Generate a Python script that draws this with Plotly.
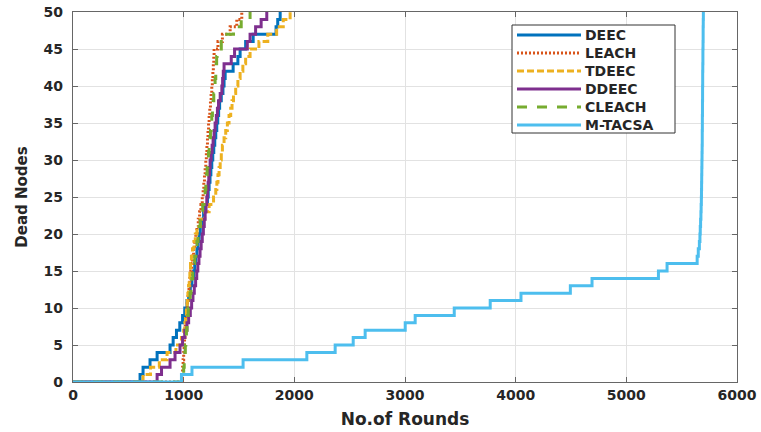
import plotly.graph_objects as go

# Round at which each successive node died (node count 1..50)
deec = [606, 633, 696, 760, 877, 905, 935, 965, 990, 1010,
        1030, 1045, 1060, 1075, 1090, 1100, 1110, 1120, 1130, 1140,
        1150, 1165, 1180, 1195, 1215, 1222, 1230, 1238, 1246, 1254,
        1263, 1272, 1281, 1290, 1299, 1308, 1316, 1325, 1340, 1355,
        1365, 1375, 1447, 1490, 1510, 1560, 1628, 1835, 1850, 1872]
leach = [985, 990, 995, 1000, 1004, 1008, 1012, 1016, 1020, 1025,
         1032, 1040, 1048, 1056, 1064, 1072, 1080, 1090, 1100, 1110,
         1120, 1132, 1144, 1156, 1168, 1176, 1182, 1188, 1194, 1200,
         1205, 1210, 1215, 1220, 1225, 1230, 1236, 1242, 1248, 1254,
         1259, 1264, 1268, 1272, 1275, 1310, 1350, 1420, 1480, 1525]
tdeec = [633, 700, 780, 850, 930, 980, 1000, 1010, 1018, 1025,
         1032, 1038, 1044, 1050, 1056, 1062, 1070, 1080, 1092, 1105,
         1120, 1150, 1190, 1230, 1270, 1290, 1300, 1310, 1320, 1330,
         1340, 1350, 1365, 1380, 1395, 1410, 1425, 1437, 1450, 1470,
         1490, 1510, 1535, 1560, 1600, 1680, 1760, 1840, 1900, 1962]
ddeec = [760, 800, 877, 922, 967, 990, 1010, 1030, 1045, 1060,
         1072, 1084, 1096, 1108, 1118, 1128, 1138, 1148, 1158, 1168,
         1178, 1186, 1194, 1202, 1209, 1215, 1221, 1227, 1233, 1239,
         1248, 1257, 1266, 1275, 1284, 1295, 1305, 1315, 1330, 1345,
         1352, 1358, 1365, 1430, 1460, 1575, 1600, 1650, 1700, 1751]
cleach = [995, 1000, 1005, 1010, 1015, 1020, 1025, 1030, 1036, 1042,
          1050, 1058, 1066, 1074, 1082, 1090, 1100, 1110, 1120, 1130,
          1140, 1150, 1160, 1172, 1184, 1194, 1200, 1206, 1212, 1218,
          1224, 1230, 1236, 1242, 1248, 1254, 1260, 1266, 1272, 1278,
          1284, 1290, 1294, 1298, 1302, 1340, 1390, 1450, 1520, 1600]
mtacsa = [980, 1075, 1537, 2113, 2369, 2532, 2640, 3002, 3092, 3445,
          3770, 4048, 4494, 4690, 5290, 5368, 5640, 5650, 5660, 5665,
          5668, 5671, 5674, 5676, 5678, 5679, 5680, 5681, 5682, 5683,
          5684, 5685, 5686, 5686, 5687, 5687, 5688, 5688, 5689, 5689,
          5690, 5690, 5691, 5692, 5692, 5693, 5694, 5694, 5695, 5696]

series_names = ["DEEC", "LEACH", "TDEEC", "DDEEC", "CLEACH", "M-TACSA"]
series_data = [deec, leach, tdeec, ddeec, cleach, mtacsa]
colors = ["#0072BD", "#D95319", "#EDB120", "#7E2F8E", "#77AC30", "#4DBEEE"]
dashes = ["solid", "2px,2px", "7px,3px", "solid", "10px,10px", "solid"]

x_ticks = [0, 1000, 2000, 3000, 4000, 5000, 6000]
y_ticks = [0, 5, 10, 15, 20, 25, 30, 35, 40, 45, 50]

FONT = "DejaVu Sans"
fig = go.Figure()
for name, d, c, ds in zip(series_names, series_data, colors, dashes):
    fig.add_trace(go.Scatter(
        x=[0] + d, y=list(range(len(d) + 1)), mode="lines", name=name,
        line=dict(color=c, width=3, dash=ds, shape="hv"), showlegend=False))

# manual legend box (paper coordinates)
L = 73; R = 737; T = 12; B = 382
def px(v): return (v - L) / (R - L)
def py(v): return (B - v) / (B - T)

shapes = [dict(type="rect", xref="paper", yref="paper",
               x0=px(512), x1=px(675), y0=py(133), y1=py(25),
               line=dict(color="#333333", width=1), fillcolor="white", layer="above")]
annotations = []
rows = [35, 53, 71, 89, 107, 125]
for name, c, ds, r in zip(series_names, colors, dashes, rows):
    shapes.append(dict(type="line", xref="paper", yref="paper",
                       x0=px(517), x1=px(581), y0=py(r), y1=py(r),
                       line=dict(color=c, width=3, dash=ds), layer="above"))
    annotations.append(dict(xref="paper", yref="paper", x=px(583), y=py(r),
                            text=name, showarrow=False, xanchor="left", yanchor="middle",
                            font=dict(family=FONT, size=14, color="#262626", weight="bold")))

axis_common = dict(showline=True, linecolor="#666666", linewidth=1.2, mirror="ticks",
                   ticks="inside", ticklen=5, tickcolor="#666666",
                   showgrid=True, gridcolor="#e2e2e2", gridwidth=1, zeroline=False,
                   layer="below traces", automargin=False,
                   tickfont=dict(family=FONT, size=14, color="#262626", weight="bold"))

fig.update_layout(
    width=761, height=432, margin=dict(l=73, r=24, t=12, b=50),
    paper_bgcolor="white", plot_bgcolor="white",
    xaxis=dict(range=[0, 6000], tickvals=x_ticks, ticktext=[str(v) for v in x_ticks],
               title=dict(text="No.of Rounds", standoff=11,
                          font=dict(family=FONT, size=17, color="#262626", weight="bold")),
               **axis_common),
    yaxis=dict(range=[0, 50], tickvals=y_ticks, ticktext=[str(v) for v in y_ticks],
               ticklabelstandoff=6,
               title=dict(text="Dead Nodes", standoff=12,
                          font=dict(family=FONT, size=15, color="#262626", weight="bold")),
               **axis_common),
    shapes=shapes, annotations=annotations, showlegend=False,
)
fig.write_html("out.html")
